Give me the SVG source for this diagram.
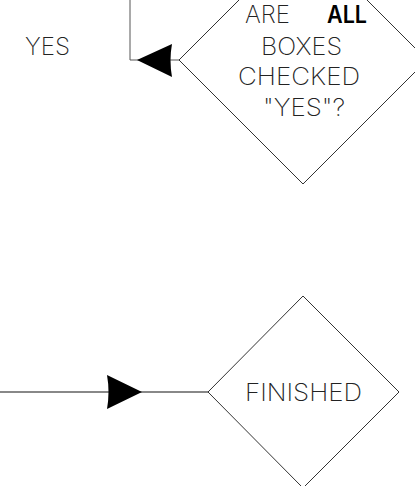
<svg xmlns="http://www.w3.org/2000/svg" width="415" height="486" viewBox="0 0 415 486">
  <style>
    .shape { fill: none; stroke: #333; stroke-width: 1; }
    .conn { fill: none; stroke: #555; stroke-width: 1; }
    .conn2 { fill: none; stroke: #888; stroke-width: 2; }
    .head { fill: #000; stroke: none; }
    .lbl { font-family: "Inter", "Liberation Sans", sans-serif; font-weight: 200; font-size: 24px; fill: #222; }
    .bold { font-weight: 600; fill: #000; }
  </style>
  <rect width="415" height="486" fill="#fff"/>
  <g id="connectors">
    <polyline class="conn" points="130,0 130,60 179,60"/>
    <path class="head" d="M137,60 L172,44 Q169,60 172,77 Z"/>
    <line class="conn2" x1="0" y1="392" x2="208" y2="392"/>
    <path class="head" d="M142,392 L107,375 Q110,392 107,409 Z"/>
  </g>
  <g id="yes-label">
    <text class="lbl" x="25" y="55" textLength="45" lengthAdjust="spacingAndGlyphs">YES</text>
  </g>
  <g id="decision-all-checked">
    <polygon class="shape" points="303,-64 427,60 303,184 179,60"/>
    <text class="lbl" x="245" y="23" textLength="45" lengthAdjust="spacingAndGlyphs">ARE</text>
    <text class="lbl bold" x="327" y="23" textLength="40" lengthAdjust="spacingAndGlyphs">ALL</text>
    <text class="lbl" x="261" y="55" textLength="81" lengthAdjust="spacingAndGlyphs">BOXES</text>
    <text class="lbl" x="238" y="85" textLength="122" lengthAdjust="spacingAndGlyphs">CHECKED</text>
    <text class="lbl" x="263" y="116" textLength="82" lengthAdjust="spacingAndGlyphs">"YES"?</text>
  </g>
  <g id="finished">
    <polygon class="shape" points="303,296 399,392 303,488 208,392"/>
    <text class="lbl" x="245" y="401" textLength="117" lengthAdjust="spacingAndGlyphs">FINISHED</text>
  </g>
</svg>
